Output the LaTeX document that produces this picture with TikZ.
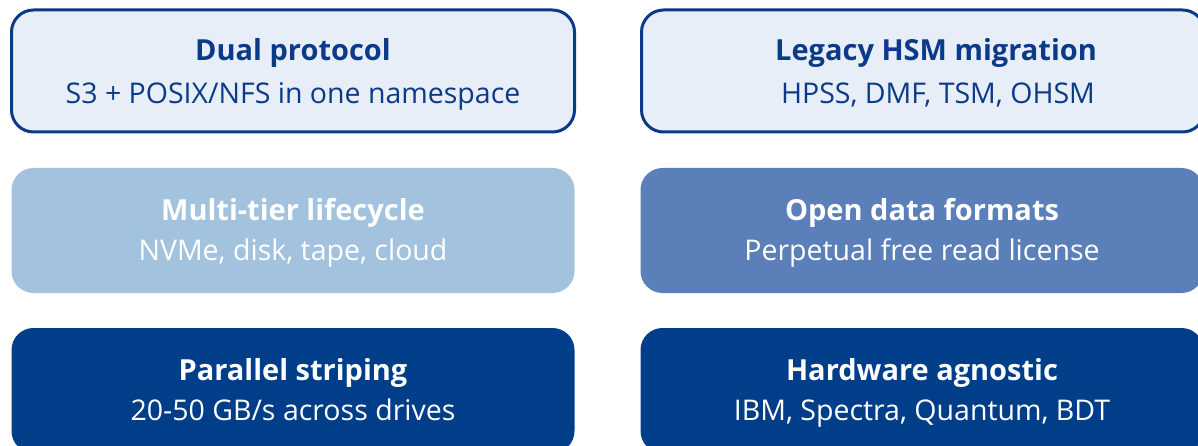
\documentclass[tikz,border=0pt]{standalone}
\usepackage{fontspec}
\setmainfont{Open Sans}
\definecolor{navy}{HTML}{0B3A88}
\definecolor{paleblue}{HTML}{E8EEF7}
\definecolor{lightblue}{HTML}{A3C2DE}
\definecolor{midblue}{HTML}{5B7FB8}
\definecolor{deepblue}{HTML}{003E8A}
\tikzset{
  card/.style={rounded corners=22pt, minimum width=563pt, minimum height=122pt, inner sep=0pt},
  cardA/.style={card, fill=paleblue, draw=navy, line width=3pt},
  cardB/.style={card, fill=lightblue},
  cardC/.style={card, fill=midblue},
  cardD/.style={card, fill=deepblue},
  ttl/.style={anchor=base, inner sep=0pt, font=\fontsize{29}{34}\selectfont\bfseries},
  sub/.style={anchor=base, inner sep=0pt, font=\fontsize{28.5}{33}\selectfont},
}
\begin{document}
\begin{tikzpicture}[x=1pt,y=-1pt]
\useasboundingbox (0,0) rectangle (1198,446);
\node[cardA] (c1) at (293,71) {};
\node[cardA] (c2) at (923,71) {};
\node[cardB, minimum height=125pt] (c3) at (293,230.5) {};
\node[cardC, minimum height=125pt] (c4) at (922,230.5) {};
\node[cardD, minimum height=125pt] (c5) at (293,390.5) {};
\node[cardD, minimum height=125pt] (c6) at (922,390.5) {};
\node[ttl, text=navy] (t1) at ([yshift=10pt]c1.center) {Dual protocol};
\node[sub, text=navy] (s1) at ([yshift=-33pt]c1.center) {S3 + POSIX/NFS in one namespace};
\node[ttl, text=navy] (t2) at ([yshift=10pt,xshift=13pt]c2.center) {Legacy HSM migration};
\node[sub, text=navy] (s2) at ([yshift=-33pt,xshift=15pt]c2.center) {HPSS, DMF, TSM, OHSM};
\node[ttl, text=white] (t3) at ([yshift=10pt]c3.center) {Multi-tier lifecycle};
\node[sub, text=white] (s3) at ([yshift=-30pt]c3.center) {NVMe, disk, tape, cloud};
\node[ttl, text=white] (t4) at ([yshift=10pt]c4.center) {Open data formats};
\node[sub, text=white] (s4) at ([yshift=-30pt]c4.center) {Perpetual free read license};
\node[ttl, text=white] (t5) at ([yshift=10pt]c5.center) {Parallel striping};
\node[sub, text=white] (s5) at ([yshift=-30pt]c5.center) {20-50 GB/s across drives};
\node[ttl, text=white] (t6) at ([yshift=10pt]c6.center) {Hardware agnostic};
\node[sub, text=white] (s6) at ([yshift=-30pt]c6.center) {IBM, Spectra, Quantum, BDT};
\end{tikzpicture}
\end{document}
